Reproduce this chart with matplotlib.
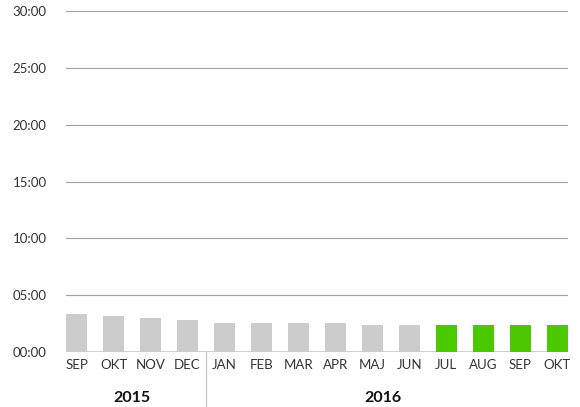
import matplotlib
matplotlib.use("Agg")
import matplotlib.pyplot as plt
import matplotlib.transforms as mtransforms

plt.rcParams["font.family"] = ["Lato", "DejaVu Sans"]

# monthly values, in seconds
months = ["SEP", "OKT", "NOV", "DEC", "JAN", "FEB", "MAR", "APR",
          "MAJ", "JUN", "JUL", "AUG", "SEP", "OKT"]
seconds = [200, 190, 180, 169, 154, 154, 154, 154, 143, 143, 143, 143, 143, 143]
highlight = [False] * 10 + [True] * 4
years = ["2015", "2016"]
year_months = [4, 10]  # number of months per year

GREY_BAR = "#cccccc"
GREEN = "#4cc800"
INK = "#333333"

fig = plt.figure(figsize=(5.8, 4.07), dpi=100)
ax = fig.add_axes([0.1138, 0.135, 0.979 - 0.1138, 0.973 - 0.135])

x = list(range(len(months)))
colors = [GREEN if h else GREY_BAR for h in highlight]
ax.bar(x, seconds, width=0.57, color=colors, zorder=3)

ax.set_ylim(0, 1800)
ax.set_xlim(-0.285, len(months) - 1 + 0.285)
yt = list(range(0, 1801, 300))
ax.set_yticks(yt)
ax.set_yticklabels([f"{v // 60:02d}:{v % 60:02d}" for v in yt], fontsize=9.5, color=INK)
ax.yaxis.grid(True, color="#a0a0a0", lw=0.8, zorder=0)
ax.axhline(0, color="#cccccc", lw=2, zorder=2)
ax.set_xticks(x)
ax.set_xticklabels(months, fontsize=9.5, color=INK)
ax.tick_params(axis="both", length=0)
ax.tick_params(axis="x", pad=5)
ax.tick_params(axis="y", pad=14)
for s in ax.spines.values():
    s.set_visible(False)

# year labels and separator
tr = mtransforms.blended_transform_factory(ax.transData, ax.transAxes)
start = 0
for i, (yr, n) in enumerate(zip(years, year_months)):
    end = start + n
    left = -0.285 if i == 0 else start - 0.5
    right = end - 1 + 0.285 if i == len(years) - 1 else end - 0.5
    ax.text((left + right) / 2 - 0.12, -0.135, yr, transform=tr, ha="center", va="center",
            fontsize=11.5, fontweight="bold", color="#111111")
    if i > 0:
        ax.plot([start - 0.5, start - 0.5], [0, -0.17], transform=tr, color="#c8c8c8",
                lw=0.9, clip_on=False)
    start = end

fig.savefig("out.png", dpi=100)
